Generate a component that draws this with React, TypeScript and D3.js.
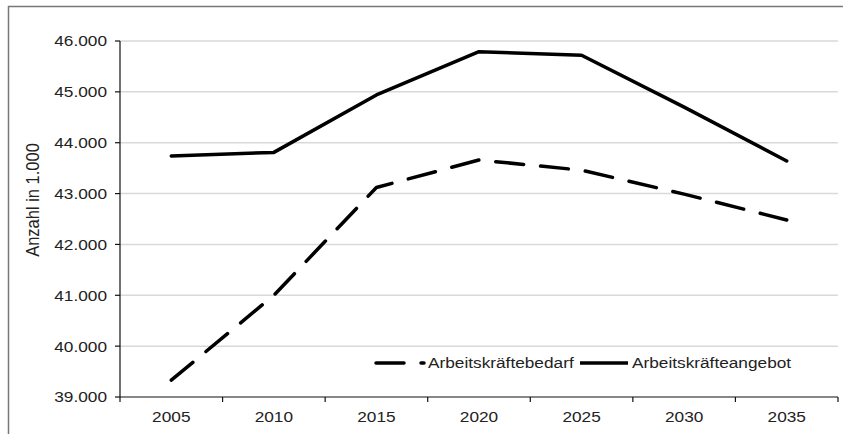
import React from "react";
import * as d3 from "d3";

const years = ["2005", "2010", "2015", "2020", "2025", "2030", "2035"];
const bedarf = [39.33, 41.0, 43.12, 43.66, 43.46, 42.99, 42.48];
const angebot = [43.74, 43.81, 44.94, 45.79, 45.72, 44.7, 43.64];
const yTicks = [39, 40, 41, 42, 43, 44, 45, 46];
const seriesNames = ["Arbeitskräftebedarf", "Arbeitskräfteangebot"];
const yTitle = "Anzahl in 1.000";

const W = 843;
const H = 434;
const left = 120;
const right = 838;
const top = 41;
const bottom = 397;
const SX = 1.15;

function T(props: { x: number; y: number; anchor?: string; children: React.ReactNode }) {
  return (
    <text
      transform={`translate(${props.x},${props.y}) scale(${SX},1)`}
      dy="0.36em"
      textAnchor={props.anchor || "start"}
      fontSize={15}
      fill="#222"
    >
      {props.children}
    </text>
  );
}

export default function App() {
  const x = d3.scaleBand<string>().domain(years).range([left, right]);
  const y = d3.scaleLinear().domain([39, 46]).range([bottom, top]);
  const line = d3
    .line<number>()
    .x((_, i) => (x(years[i]) as number) + x.bandwidth() / 2)
    .y((d) => y(d));
  const fmt = (v: number) => v.toFixed(3);
  const font = "'Liberation Sans', Arial, sans-serif";
  const boundaries = years.map((yr) => x(yr) as number).concat([right]);
  const legendY = 363;

  return (
    <svg
      width={W}
      height={H}
      style={{ position: "absolute", left: 0, top: 0, background: "#fff" }}
      fontFamily={font}
    >
      <rect x={0} y={0} width={W} height={H} fill="#fff" />
      <rect x={8.5} y={6.5} width={W + 10} height={H + 10} fill="none" stroke="#777" strokeWidth={1.5} />
      {yTicks.map((t) => (
        <g key={t}>
          {t > 39 && (
            <line x1={left} x2={right} y1={y(t)} y2={y(t)} stroke="#d9d9d9" strokeWidth={1.5} />
          )}
          <line x1={left - 5} x2={left} y1={y(t)} y2={y(t)} stroke="#111" strokeWidth={1.2} />
          <T x={107} y={y(t)} anchor="end">
            {fmt(t)}
          </T>
        </g>
      ))}
      <line x1={left} x2={left} y1={top} y2={bottom} stroke="#111" strokeWidth={1.2} />
      <line x1={left} x2={right} y1={bottom} y2={bottom} stroke="#111" strokeWidth={1.2} />
      {boundaries.map((b, i) => (
        <line key={i} x1={b} x2={b} y1={bottom} y2={bottom + 5} stroke="#111" strokeWidth={1.2} />
      ))}
      {years.map((yr) => (
        <T key={yr} x={(x(yr) as number) + x.bandwidth() / 2} y={417} anchor="middle">
          {yr}
        </T>
      ))}
      <text
        transform={`translate(32,200) rotate(-90) scale(1,1.1)`}
        textAnchor="middle"
        dy="0.36em"
        fontSize={16.5}
        fill="#222"
      >
        {yTitle}
      </text>
      <path
        d={line(angebot) || ""}
        fill="none"
        stroke="#000"
        strokeWidth={3.5}
        strokeLinejoin="round"
        strokeLinecap="round"
      />
      <path
        d={line(bedarf) || ""}
        fill="none"
        stroke="#000"
        strokeWidth={3.5}
        strokeLinejoin="round"
        strokeLinecap="round"
        strokeDasharray="28 17"
      />
      <line
        x1={376}
        x2={424}
        y1={legendY}
        y2={legendY}
        stroke="#000"
        strokeWidth={3.5}
        strokeLinecap="round"
        strokeDasharray="28 17"
      />
      <T x={428} y={legendY}>
        {seriesNames[0]}
      </T>
      <line x1={580} x2={628} y1={legendY} y2={legendY} stroke="#000" strokeWidth={3.5} />
      <T x={632} y={legendY}>
        {seriesNames[1]}
      </T>
    </svg>
  );
}
